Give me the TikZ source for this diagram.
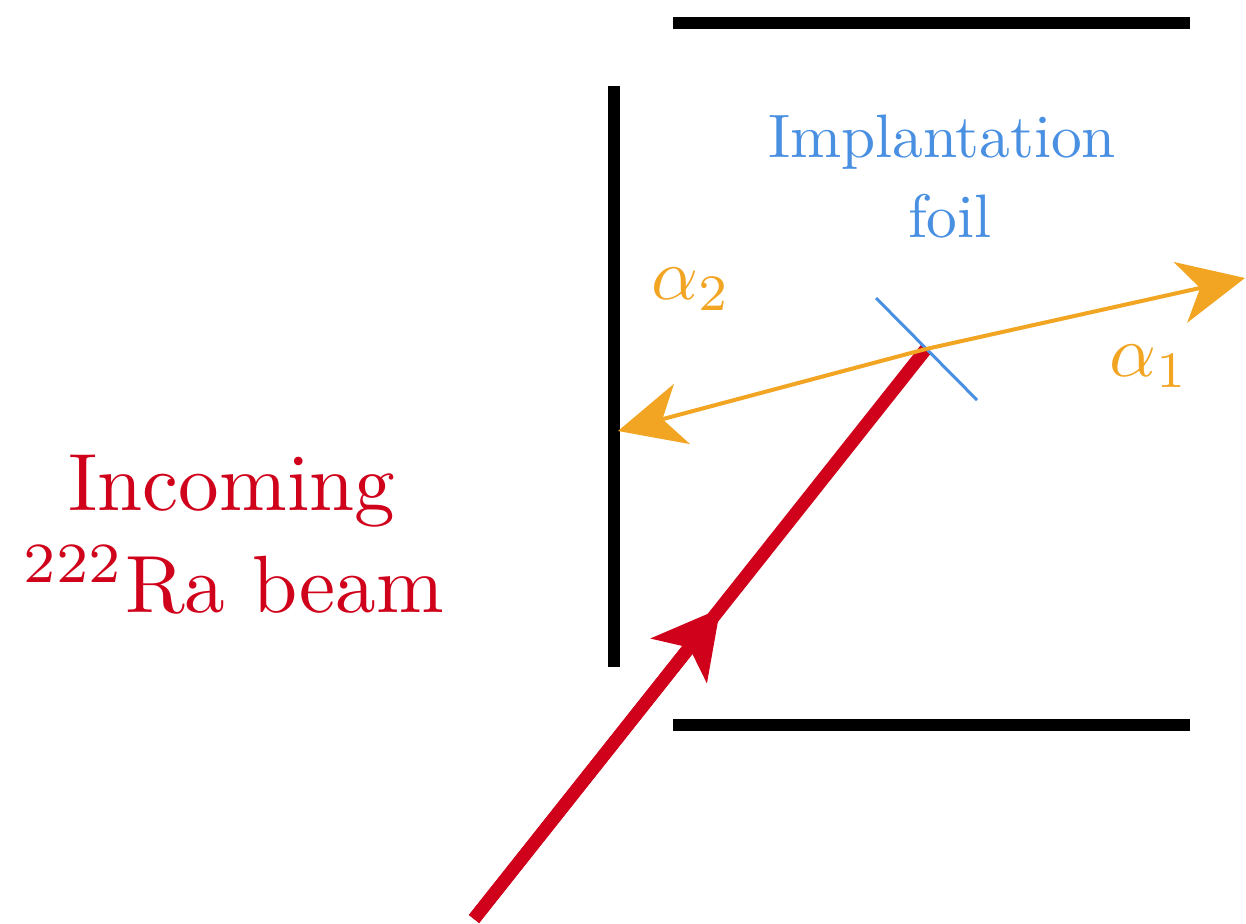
\documentclass[tikz,border=0pt]{standalone}
\usetikzlibrary{arrows.meta,calc}
\definecolor{beamred}{HTML}{D0021B}
\definecolor{alphaorange}{HTML}{F2A423}
\definecolor{foilblue}{HTML}{4A90E2}
\tikzset{
  bar/.style={line width=6pt, black},
  beam/.style={line width=6.5pt, beamred},
  foil/.style={line width=1.5pt, foilblue},
  alpha/.style={line width=2pt, alphaorange, -{Stealth[length=33pt,width=31pt,inset=10pt]}},
  beamtip/.style={-{Stealth[length=33pt,width=35pt,inset=8pt]}},
  bigred/.style={text=beamred, font=\normalsize, inner sep=0pt, scale=4.06, transform shape},
  bluelabel/.style={text=foilblue, font=\normalsize, inner sep=0pt, scale=3.07, transform shape},
  alphalabel/.style={text=alphaorange, font=\normalsize, inner sep=0pt, scale=3.65, transform shape}
}
\begin{document}
\begin{tikzpicture}[x=0.5pt,y=-0.5pt]
\useasboundingbox (0,0) rectangle (1246,924);
% chamber walls
\coordinate (topL) at (673,23);
\coordinate (topR) at (1190,23);
\coordinate (botL) at (673,725);
\coordinate (botR) at (1190,725);
\coordinate (wallT) at (614,86);
\coordinate (wallB) at (614,667);
\draw[bar] (topL) -- (topR);
\draw[bar] (botL) -- (botR);
\draw[bar] (wallT) -- (wallB);
% beam
\coordinate (src) at (474,919);
\coordinate (hit) at (926,349);
\coordinate (redtip) at ($(src)!0.545!(hit)$);
\draw[beam] (src) -- (hit);
\draw[beam, beamtip] (src) -- (redtip);
% foil
\coordinate (foilA) at (876,298);
\coordinate (foilB) at (977,400);
\draw[foil] (foilA) -- (foilB);
% alphas
\coordinate (a1tip) at (1245,278);
\coordinate (a2tip) at (618,431);
\draw[alpha] (hit) -- (a1tip);
\draw[alpha] (hit) -- (a2tip);
% labels
\node[bigred, anchor=base] (inc) at (232,510) {Incoming};
\node[bigred, anchor=base] (ra) at (234,612) {$^{222}$Ra beam};
\node[bluelabel, anchor=base] (impl) at (942,158) {Implantation};
\node[bluelabel, anchor=base] (foiltxt) at (950,238) {foil};
\node[alphalabel, anchor=base west] (al2) at (650,300) {$\alpha_2$};
\node[alphalabel, anchor=base west] (al1) at (1108,377) {$\alpha_1$};
\end{tikzpicture}
\end{document}
